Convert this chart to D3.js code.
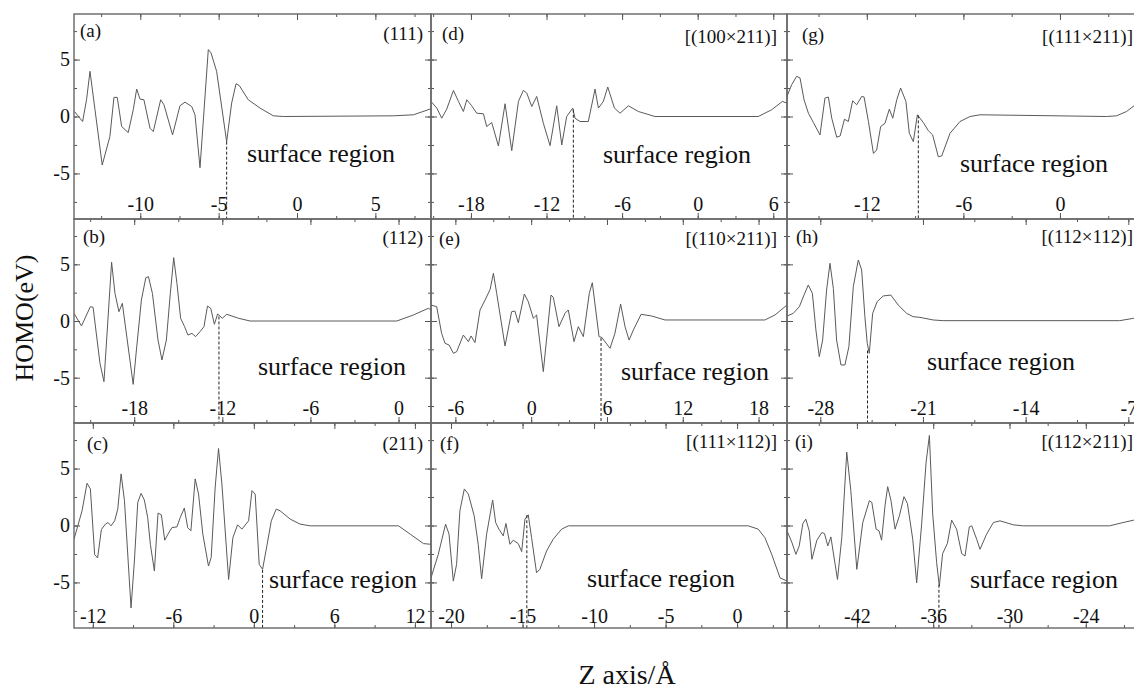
<!DOCTYPE html>
<html><head><meta charset="utf-8">
<script src="https://cdn.jsdelivr.net/npm/d3@7"></script>
<style>body{margin:0;background:#fff}svg{display:block}</style>
</head><body>
<svg id="chart" width="1134" height="690"></svg>
<script>
// ---------- DATA ----------
const panelLetters = ["(a)","(b)","(c)","(d)","(e)","(f)","(g)","(h)","(i)"];
const facetNames = ["(111)","(112)","(211)","[(100×211)]","[(110×211)]","[(111×112)]","[(111×211)]","[(112×112)]","[(112×211)]"];
const xDomains = [[-14.23,8.55],[-22.1,2.21],[-13.4,13.2],[-21.17,7.09],[-7.93,20.25],[-21.4,3.49],[-16.96,5.16],[-30.27,-6.0],[-47.5,-19.5]];
const xTickLabels = [[-10,-5,0,5],[-18,-12,-6,0],[-12,-6,0,6,12],[-18,-12,-6,0,6],[-6,0,6,12,18],[-20,-15,-10,-5,0],[-12,-6,0],[-28,-21,-14,-7],[-42,-36,-30,-24]];
const xMinorSteps = [2.5,3,3,3,3,2.5,3,3.5,3];
const yDomain = [-9,9];
const yTickLabels = [-5,0,5];
const yMinorStep = 2.5;
const cutZ = [-4.49,-12.23,0.65,-9.87,5.53,-14.7,-8.8,-24.78,-35.55];
const cutH = [-2.21,0.4,-3.9,0.6,-1.5,0.9,0.1,-2.6,-5.2];
const regionText = "surface region";
const yTitle = "HOMO(eV)";
const xTitle = "Z axis/Å";

const zA = [-14.2,-13.68,-13.43,-13.21,-12.89,-12.43,-11.94,-11.68,-11.47,-11.19,-10.77,-10.45,-10.23,-10.02,-9.77,-9.38,-9.17,-8.7,-8.49,-7.94,-7.47,-7.15,-6.72,-6.51,-6.19,-5.66,-5.49,-5.13,-4.49,-4.17,-3.89,-3.68,-3.11,-2.36,-1.51,-0.87,6.15,7.43,8.49,8.6];
const hA = [0.44,-0.44,1.47,3.97,0.59,-4.26,-1.76,1.68,1.68,-0.88,-1.41,0.59,2.41,1.53,1.47,-1.03,-1.32,1.47,1.03,-1.62,0.94,1.26,0.88,0.15,-4.5,5.88,5.59,3.97,-2.21,1.18,2.88,2.71,1.47,0.74,0.06,0,0.06,0.15,0.65,0.59];

const zB = [-22.1,-21.59,-20.99,-20.8,-20.33,-20.06,-19.54,-19.31,-19.04,-18.81,-18.07,-17.85,-17.51,-17.21,-17.03,-16.76,-16.38,-16.11,-15.81,-15.54,-15.31,-15.09,-14.84,-14.57,-14.34,-14.07,-13.82,-13.52,-13.25,-13.01,-12.79,-12.54,-12.32,-12.0,-11.7,-10.9,-10.11,-0.12,1.01,2.03,2.21];
const hB = [0.68,-0.44,1.26,1.21,-3.74,-5.35,5.18,2.44,0.82,1.56,-5.59,-2.56,1.85,3.82,3.91,2.44,-1.68,-3.44,-1.68,2.44,5.59,3.32,0.24,-0.5,-1.24,-1.09,-1.38,-0.94,-0.5,1.32,1.12,-0.29,0.62,0.24,0.59,0.24,0,0,0.53,1.12,0.97];

const zC = [-13.4,-12.8,-12.43,-12.18,-11.86,-11.64,-11.36,-11.06,-10.86,-10.64,-10.37,-10.14,-9.89,-9.64,-9.15,-8.9,-8.65,-8.4,-8.16,-7.91,-7.71,-7.41,-7.14,-6.89,-6.64,-6.4,-6.1,-5.73,-5.48,-5.18,-4.93,-4.69,-4.37,-4.12,-3.8,-3.38,-3.18,-2.88,-2.63,-2.38,-1.88,-1.56,-1.21,-0.89,-0.39,-0.14,0.1,0.4,0.65,0.97,1.3,1.67,1.96,2.71,3.45,4.2,10.78,11.65,12.64,13.2];
const hC = [-1.21,1.29,3.71,3.21,-2.56,-2.85,-0.35,0.12,0.26,-0.03,0.41,1.44,4.53,2.18,-7.24,-3.12,2.03,2.82,2.24,0.71,-1.65,-4.0,1.09,0.94,-1.29,-0.76,-0.18,-0.12,0.71,1.53,-0.18,-0.47,4.09,2.76,-0.76,-3.56,-2.82,3.38,6.76,3.65,-4.74,-1.06,0.06,-0.32,0.41,3.06,2.76,-3.41,-3.85,-1.79,0.41,1.44,1.29,0.56,0.12,-0.03,-0.03,-0.76,-1.59,-1.65];

const zD = [-21.17,-20.71,-20.32,-19.92,-19.39,-18.99,-18.6,-18.33,-17.94,-17.54,-17.01,-16.75,-16.35,-15.82,-15.29,-14.76,-14.23,-13.84,-13.57,-13.17,-12.78,-12.25,-11.72,-11.19,-10.79,-10.4,-9.92,-9.74,-9.34,-8.68,-8.15,-7.88,-7.49,-7.14,-6.61,-6.16,-5.5,-4.71,-3.39,4.81,5.87,6.72,7.09];
const hD = [1.32,0.74,-0.15,0.65,2.29,1.32,0.44,1.47,0.94,0.29,0.24,-0.88,-0.53,-2.59,1.12,-3.0,1.32,2.29,2.06,0.88,1.76,-0.59,-2.56,0.94,-2.5,0,0.74,-0.15,-0.44,-0.44,2.41,0.74,1.32,2.59,0.74,0.29,0.94,0.44,0,0,0.59,1.32,1.18];

const zE = [-7.93,-7.48,-7.09,-6.82,-6.5,-6.16,-5.9,-5.37,-4.97,-4.76,-4.45,-4.05,-3.65,-3.25,-2.99,-2.73,-2.07,-1.55,-1.29,-1.02,-0.54,-0.23,0.17,0.43,0.96,1.57,1.75,2.2,2.68,2.94,3.39,3.73,4.13,4.6,4.84,5.37,5.58,6.24,6.63,7.08,7.43,7.75,8.09,8.7,9.54,10.59,18.5,19.3,20.25];
const hE = [1.41,1.26,-1.09,-1.97,-2.12,-2.85,-2.71,-1.24,-1.82,-1.32,-1.91,0.97,1.85,2.79,4.21,2.44,-2.21,0.82,0.88,-0.15,2.38,1.71,0.24,0.53,-4.47,2.29,2.09,-0.5,0.68,0.97,-1.82,-0.5,-1.38,2.44,3.38,-1.38,-1.44,-2.41,-1.09,1.5,-0.5,-1.68,-0.79,0.59,0.44,0.09,0.09,0.53,1.41];

const zF = [-21.4,-20.89,-20.38,-20.14,-19.84,-19.61,-19.38,-19.07,-18.79,-18.38,-18.1,-17.86,-17.51,-17.09,-16.88,-16.65,-16.35,-16.16,-15.88,-15.65,-15.3,-15.06,-14.83,-14.6,-14.37,-14.02,-13.79,-13.32,-12.86,-12.27,-11.8,0.78,1.48,1.94,2.42,3.0,3.49];
const hF = [-4.59,-2.53,0.12,-0.76,-4.88,-3.41,1.29,3.21,2.76,0.85,-1.65,-4.68,-0.76,2.24,0.26,-0.32,-0.91,0.18,-1.65,-1.29,-1.59,-2.29,0.56,0.94,-1.06,-4.15,-3.85,-2.24,-1.21,-0.32,-0.03,-0.03,-0.32,-1.06,-2.53,-4.59,-4.88];

const zG = [-16.96,-16.67,-16.36,-16.15,-15.9,-15.63,-15.32,-14.91,-14.6,-14.39,-14.18,-13.87,-13.66,-13.39,-13.15,-12.88,-12.63,-12.32,-12.17,-11.9,-11.59,-11.39,-11.14,-10.87,-10.6,-10.39,-10.14,-9.9,-9.57,-9.36,-9.11,-8.86,-8.49,-8.18,-7.91,-7.56,-7.35,-6.83,-6.21,-5.59,-4.97,2.9,3.52,4.14,4.6,5.16];
const hG = [1.76,2.79,3.53,3.38,1.47,0.29,-0.53,-1.62,1.62,1.71,-0.15,-1.82,-1.71,-0.24,-0.44,1.38,1.03,1.76,1.71,-0.44,-3.24,-2.94,-0.88,-0.59,0.65,-0.15,1.47,2.5,1.32,-1.47,-2.21,0.15,-0.53,-1.24,-1.62,-3.53,-3.47,-1.47,-0.44,0,0.15,0,0.06,0.44,0.94,1.6];

const zH = [-30.27,-29.84,-29.43,-29.11,-28.82,-28.54,-28.3,-28.07,-27.84,-27.57,-27.34,-27.11,-26.89,-26.59,-26.32,-26.05,-25.75,-25.41,-25.18,-24.96,-24.8,-24.66,-24.43,-24.12,-23.71,-23.19,-22.69,-22.12,-21.67,-21.21,-20.3,-19.62,-7.59,-6.63,-6.0];
const hH = [0.44,0.68,1.26,2.29,3.18,2.44,-0.79,-3.15,-1.68,2.74,5.09,2.88,-1.68,-3.88,-3.88,-2.26,3.03,5.38,4.5,0.38,-1.97,-2.85,0.68,1.71,2.21,2.29,1.41,0.68,0.38,0.32,0.09,0.03,0.03,0.24,0.3];

const zI = [-47.5,-47.11,-46.8,-46.54,-46.25,-46.02,-45.75,-45.54,-45.15,-44.76,-44.55,-44.29,-44.05,-43.53,-43.19,-42.8,-42.48,-42.01,-41.54,-41.02,-40.83,-40.49,-40.26,-40.06,-39.79,-39.58,-39.32,-39.0,-38.66,-38.3,-38.03,-37.61,-37.3,-36.91,-36.56,-36.3,-36.04,-35.73,-35.52,-35.26,-34.89,-34.55,-34.16,-33.76,-33.5,-33.16,-32.97,-32.58,-32.32,-31.8,-31.27,-30.75,-29.7,-28.92,-22.12,-21.07,-20.23,-19.5];
const hI = [-0.47,-1.5,-2.53,-1.79,0.18,0.56,-0.47,-2.97,-1.29,-0.62,-0.71,-1.79,-1.0,-4.74,-1.06,6.44,3.06,-3.85,0.26,2.18,2.03,-0.32,-0.47,-1.29,1.74,3.41,2.18,-0.32,0.85,2.53,1.94,-1.21,-5.03,0.12,5.56,7.91,1.0,-3.26,-5.32,-2.47,-1.59,0.47,-0.32,-2.47,-2.68,-0.12,-0.03,-1.21,-2.09,-0.76,0.26,0.41,0.06,-0.03,-0.03,0.26,0.47,0.55];

const zSeries = [zA,zB,zC,zD,zE,zF,zG,zH,zI];
const hSeries = [hA,hB,hC,hD,hE,hF,hG,hH,hI];

// ---------- LAYOUT ----------
const colX = [74, 431, 787, 1143];
const rowY = [14, 219, 423, 628];
const letterPos = [[6,23],[9,24],[13,27],[11,26],[8,26],[9,27],[15,27],[9,24],[8,25]];
const namePos = [[8,26],[8,25],[8,27],[10,29],[10,26],[10,25],[10,29],[10,24],[10,25]];
const regionPos = [[173,148],[184,156],[195,165],[172,149],[190,161],[156,164],[173,158],[140,151],[183,165]];
const xLabelOffset = [8,8,5];
const FONT = "'Liberation Serif','Times New Roman',Times,serif";
const LINE = "#555";

const svg = d3.select("#chart");
const defs = svg.append("defs");

function styleAxis(g){
  g.select(".domain").remove();
  g.selectAll(".tick line").attr("stroke", LINE).attr("stroke-width", 1);
  g.attr("font-family", FONT).attr("font-size", 20);
  g.selectAll(".tick text").attr("fill", "#111");
}
function multiples(d0, d1, s){
  return d3.range(Math.ceil(d0/s - 1e-9), Math.floor(d1/s + 1e-9) + 1).map(k => +(k*s).toFixed(4));
}

panelLetters.forEach((letter, p) => {
  const c = Math.floor(p/3), r = p % 3;
  const x0 = colX[c], x1 = colX[c+1], y0 = rowY[r], y1 = rowY[r+1];
  const x = d3.scaleLinear().domain(xDomains[p]).range([x0, x1]);
  const y = d3.scaleLinear().domain(yDomain).range([y1, y0]);
  const g = svg.append("g");

  defs.append("clipPath").attr("id", "clip" + p)
    .append("rect").attr("x", x0).attr("y", y0).attr("width", x1 - x0).attr("height", y1 - y0);

  const xMinor = multiples(xDomains[p][0], xDomains[p][1], xMinorSteps[p]);
  const yMinor = multiples(yDomain[0], yDomain[1], yMinorStep).filter(v => v > yDomain[0] && v < yDomain[1]);

  // bottom
  g.append("g").attr("transform", `translate(0,${y1})`)
    .call(d3.axisBottom(x).tickValues(xMinor).tickSize(-3).tickFormat("")).call(styleAxis);
  const bx = g.append("g").attr("transform", `translate(0,${y1})`)
    .call(d3.axisBottom(x).tickValues(xTickLabels[p]).tickSize(-6).tickFormat(d => String(d))).call(styleAxis);
  bx.selectAll(".tick text").attr("y", -xLabelOffset[r]).attr("dy", "0");
  // top
  g.append("g").attr("transform", `translate(0,${y0})`)
    .call(d3.axisTop(x).tickValues(xMinor).tickSize(-3).tickFormat("")).call(styleAxis);
  g.append("g").attr("transform", `translate(0,${y0})`)
    .call(d3.axisTop(x).tickValues(xTickLabels[p]).tickSize(-6).tickFormat("")).call(styleAxis);
  // left
  g.append("g").attr("transform", `translate(${x0},0)`)
    .call(d3.axisLeft(y).tickValues(yMinor).tickSize(-3).tickFormat("")).call(styleAxis);
  g.append("g").attr("transform", `translate(${x0},0)`)
    .call(d3.axisLeft(y).tickValues(yTickLabels).tickSize(-6).tickPadding(4)
      .tickFormat(c === 0 ? (d => String(d)) : "")).call(styleAxis);
  // right
  g.append("g").attr("transform", `translate(${x1},0)`)
    .call(d3.axisRight(y).tickValues(yMinor).tickSize(-3).tickFormat("")).call(styleAxis);
  g.append("g").attr("transform", `translate(${x1},0)`)
    .call(d3.axisRight(y).tickValues(yTickLabels).tickSize(-6).tickFormat("")).call(styleAxis);

  // curve
  const pts = d3.zip(zSeries[p], hSeries[p]);
  g.append("path").attr("clip-path", `url(#clip${p})`)
    .datum(pts)
    .attr("fill", "none").attr("stroke", "#5a5a5a").attr("stroke-width", 1)
    .attr("stroke-linejoin", "round")
    .attr("d", d3.line().x(d => x(d[0])).y(d => y(d[1])));

  // dashed surface boundary
  g.append("line")
    .attr("x1", x(cutZ[p])).attr("x2", x(cutZ[p]))
    .attr("y1", y(cutH[p])).attr("y2", y(yDomain[0]))
    .attr("stroke", "#222").attr("stroke-width", 1).attr("stroke-dasharray", "3,2");

  // frame
  g.append("rect").attr("x", x0).attr("y", y0).attr("width", x1 - x0).attr("height", y1 - y0)
    .attr("fill", "none").attr("stroke", "#666").attr("stroke-width", 1.4);

  // texts
  g.append("text").attr("x", x0 + letterPos[p][0]).attr("y", y0 + letterPos[p][1])
    .attr("font-family", FONT).attr("font-size", 19).attr("fill", "#111").text(letter);
  g.append("text").attr("x", x1 - namePos[p][0]).attr("y", y0 + namePos[p][1])
    .attr("text-anchor", "end")
    .attr("font-family", FONT).attr("font-size", 19).attr("fill", "#111").text(facetNames[p]);
  g.append("text").attr("x", x0 + regionPos[p][0]).attr("y", y0 + regionPos[p][1])
    .attr("font-family", FONT).attr("font-size", 26).attr("fill", "#111").text(regionText);
});

svg.append("text").attr("transform", "translate(33,318) rotate(-90)")
  .attr("text-anchor", "middle").attr("font-family", FONT).attr("font-size", 26).attr("fill", "#111")
  .text(yTitle);
svg.append("text").attr("x", 627).attr("y", 684)
  .attr("text-anchor", "middle").attr("font-family", FONT).attr("font-size", 28).attr("fill", "#111")
  .text(xTitle);
</script>
</body></html>
